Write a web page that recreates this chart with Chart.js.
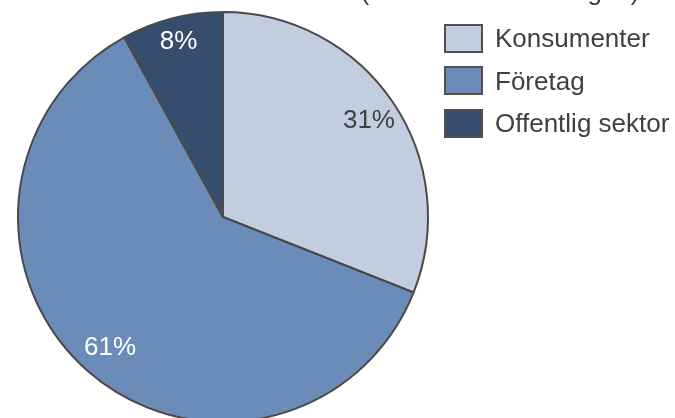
<!DOCTYPE html>
<html>
<head>
<meta charset="utf-8">
<script src="https://cdn.jsdelivr.net/npm/chart.js@4/dist/chart.umd.min.js"></script>
<style>
  html, body { margin: 0; padding: 0; background: #fff; overflow: hidden; }
  #wrap { position: relative; width: 675px; height: 418px; overflow: hidden; font-family: "Liberation Sans", Arial, sans-serif; }
  #chart { position: absolute; left: 0; top: 0; }
  #title { position: absolute; left: 300px; width: 400px; top: -24px; text-align: center; font-size: 26px; color: #404040; white-space: nowrap; }
  #legend { position: absolute; left: 444px; top: 24px; }
  .item { display: flex; align-items: center; height: 28px; margin-bottom: 14.5px; }
  .box { width: 35px; height: 25px; border: 2px solid #505050; margin-right: 12px; }
  .item span { font-size: 26px; color: #404040; line-height: 28px; }
</style>
</head>
<body>
<div id="wrap">
  <canvas id="chart" width="675" height="430"></canvas>
  <div id="title"></div>
  <div id="legend"></div>
</div>
<script>
const titleText = '(andel av omsättningen)';
const categories = ['Konsumenter', 'Företag', 'Offentlig sektor'];
const shares = [31, 61, 8];
const sliceColors = ['#c3cde0', '#6b8cb9', '#374d6e'];
const labelColors = ['#404040', '#ffffff', '#ffffff'];
// how far out along the slice each percent label sits (fraction of radius)
const labelRadius = [0.855, 0.84, 0.89];

document.getElementById('title').textContent = titleText;

const legend = document.getElementById('legend');
categories.forEach((name, i) => {
    const row = document.createElement('div');
    row.className = 'item';
    const box = document.createElement('div');
    box.className = 'box';
    box.style.background = sliceColors[i];
    const label = document.createElement('span');
    label.textContent = name;
    row.appendChild(box);
    row.appendChild(label);
    legend.appendChild(row);
});

// percent labels inside the slices
const sliceLabels = {
    id: 'sliceLabels',
    afterDatasetsDraw(chart) {
        const ctx = chart.ctx;
        const arcs = chart.getDatasetMeta(0).data;
        ctx.save();
        ctx.font = '26px "Liberation Sans", Arial, sans-serif';
        ctx.textAlign = 'center';
        ctx.textBaseline = 'middle';
        arcs.forEach((arc, i) => {
            const p = arc.getProps(['x', 'y', 'startAngle', 'endAngle', 'outerRadius'], true);
            const mid = (p.startAngle + p.endAngle) / 2;
            const r = p.outerRadius * labelRadius[i];
            ctx.fillStyle = labelColors[i];
            ctx.fillText(shares[i] + '%', p.x + 1 + Math.cos(mid) * r, p.y + 2 + Math.sin(mid) * r);
        });
        ctx.restore();
    }
};

new Chart(document.getElementById('chart'), {
    type: 'pie',
    data: {
        labels: categories,
        datasets: [{
            data: shares,
            backgroundColor: sliceColors,
            borderColor: '#4a4a4a',
            borderWidth: 2
        }]
    },
    options: {
        responsive: false,
        animation: false,
        layout: { padding: { left: 17, top: 11, right: 246, bottom: 7 } },
        plugins: {
            legend: { display: false },
            tooltip: { enabled: false }
        }
    },
    plugins: [sliceLabels]
});
</script>
</body>
</html>
